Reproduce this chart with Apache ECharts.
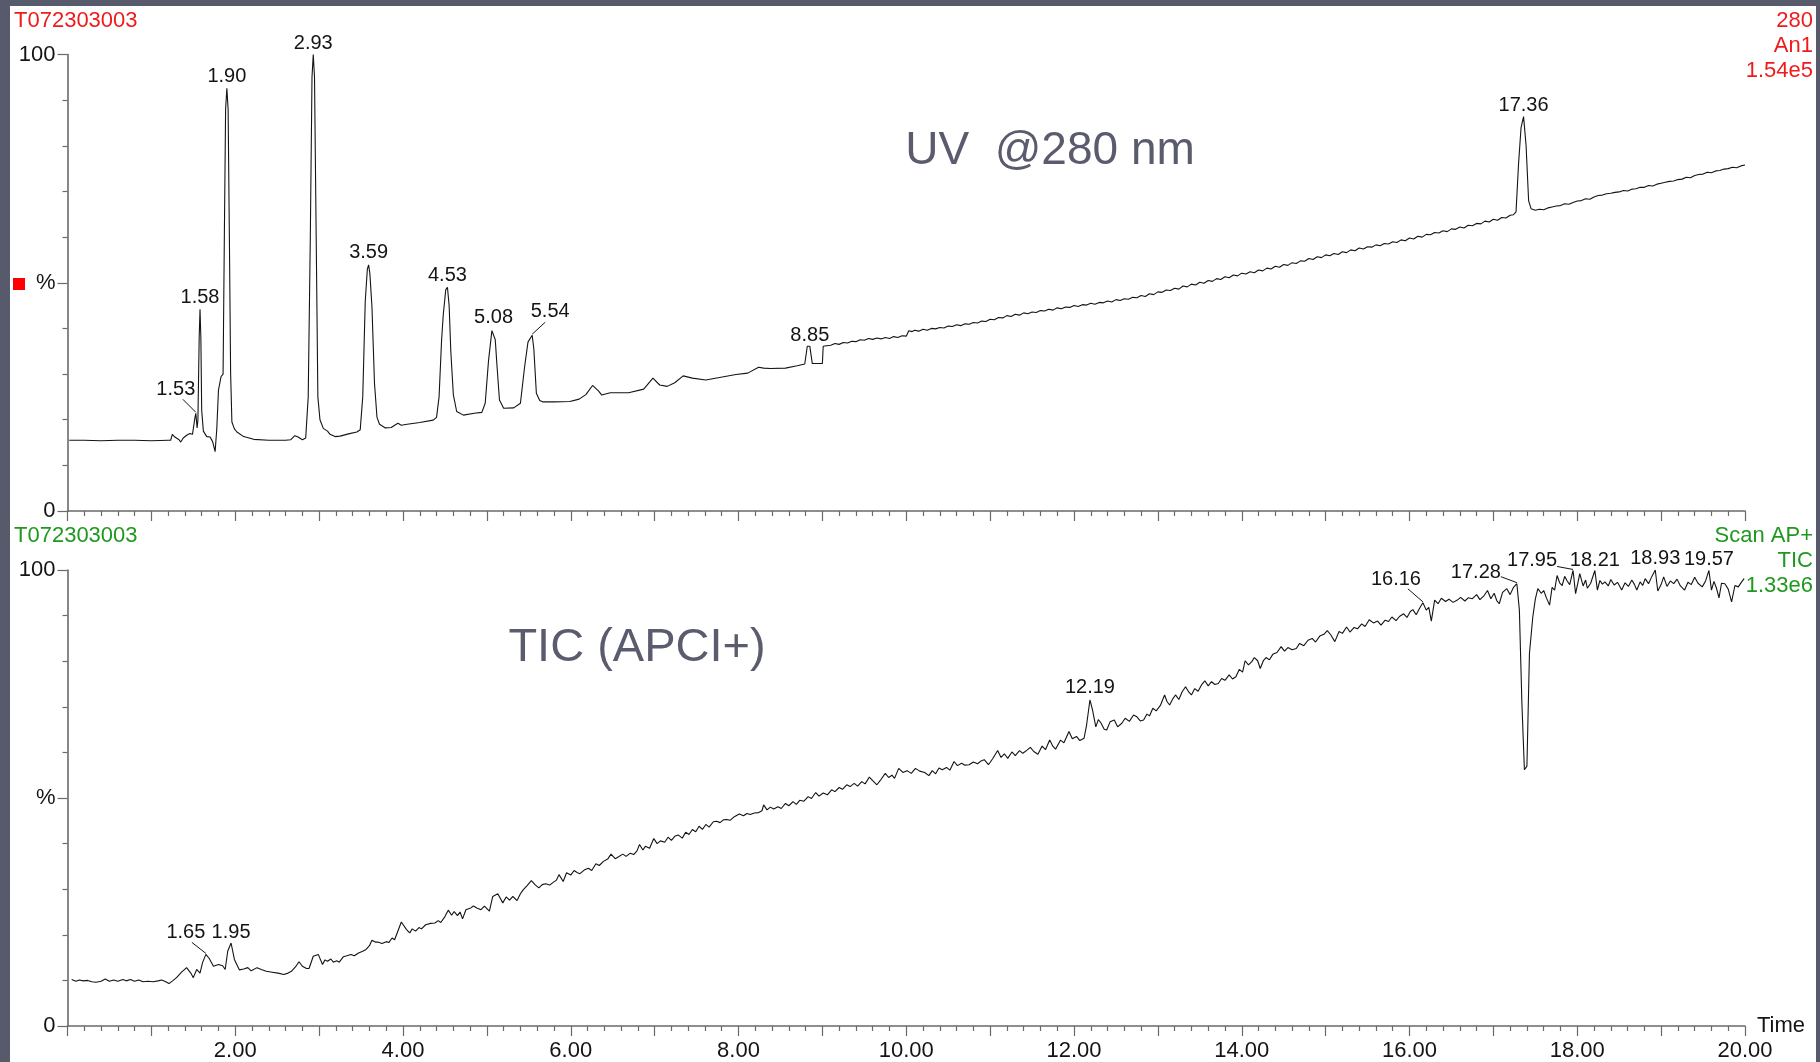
<!DOCTYPE html>
<html>
<head>
<meta charset="utf-8">
<title>T072303003 – UV 280 nm and TIC (APCI+)</title>
<script src="https://cdn.jsdelivr.net/npm/echarts@6/dist/echarts.min.js"></script>
<style>
  html, body { margin: 0; padding: 0; background: #ffffff; }
  #chart { width: 1820px; height: 1062px; }
</style>
</head>
<body>
<div id="chart"></div>
<script>
// ---- UV trace, 280 nm: [retention time (min), % of 1.54e5] ----
var uvEarly = [
  [0.02, 15.5], [0.20, 15.5], [0.40, 15.4], [0.60, 15.5], [0.80, 15.5], [1.00, 15.4], [1.20, 15.5],
  [1.23, 15.5], [1.25, 16.8], [1.28, 16.2], [1.30, 16.5], [1.33, 15.6], [1.35, 15.1], [1.38, 16.0],
  [1.42, 16.6], [1.46, 17.0], [1.49, 16.8], [1.50, 17.2], [1.52, 20.5], [1.53, 21.4], [1.545, 18.2],
  [1.555, 20.0], [1.57, 38.0], [1.58, 44.2], [1.59, 38.0], [1.60, 22.0], [1.62, 17.5], [1.66, 16.3],
  [1.70, 16.2], [1.73, 15.2], [1.76, 13.0], [1.78, 18.0], [1.80, 26.5], [1.83, 29.4], [1.855, 30.0],
  [1.87, 60.0], [1.885, 88.0], [1.90, 92.6], [1.915, 88.0], [1.93, 60.0], [1.945, 30.0], [1.96, 19.5],
  [1.99, 18.0], [2.02, 17.3], [2.10, 16.3], [2.22, 15.7], [2.40, 15.5], [2.60, 15.5], [2.66, 15.6],
  [2.71, 16.5], [2.75, 16.2], [2.80, 15.6], [2.84, 16.0], [2.87, 25.0], [2.895, 60.0], [2.915, 95.0],
  [2.93, 100.0], [2.945, 95.0], [2.965, 60.0], [2.985, 25.0], [3.01, 20.0], [3.05, 18.1], [3.10, 17.5],
  [3.13, 16.8], [3.19, 16.3], [3.25, 16.4], [3.35, 16.9], [3.45, 17.3], [3.49, 17.8], [3.52, 25.0],
  [3.55, 46.0], [3.575, 53.0], [3.59, 53.9], [3.605, 52.0], [3.63, 44.7], [3.66, 28.0], [3.69, 20.5],
  [3.72, 19.0], [3.79, 18.2], [3.86, 18.3], [3.91, 18.9], [3.94, 19.2], [3.98, 18.8], [4.05, 19.0],
  [4.20, 19.4], [4.36, 19.9], [4.40, 20.5], [4.43, 25.0], [4.46, 37.4], [4.48, 43.0], [4.51, 48.5],
  [4.53, 49.0], [4.55, 45.0], [4.57, 35.0], [4.60, 25.5], [4.64, 21.8], [4.72, 21.0], [4.85, 21.4],
  [4.94, 21.6], [4.98, 23.6], [5.02, 33.0], [5.06, 39.5], [5.08, 39.8], [5.10, 37.5], [5.12, 32.0],
  [5.15, 24.3], [5.20, 22.5], [5.32, 22.6], [5.40, 23.6], [5.45, 31.6], [5.49, 37.0], [5.54, 38.5],
  [5.56, 35.5], [5.59, 25.8], [5.63, 24.2], [5.67, 23.9], [5.80, 23.9], [5.99, 24.0], [6.10, 24.5]
];
var uvMiddle = [
  [6.18, 25.5], [6.26, 27.5], [6.33, 26.3], [6.37, 25.4], [6.47, 25.9], [6.69, 25.9], [6.87, 26.7],
  [6.98, 29.1], [7.06, 27.6], [7.15, 27.3], [7.24, 28.1], [7.34, 29.6], [7.45, 29.1], [7.61, 28.7],
  [7.79, 29.3], [7.97, 29.9], [8.11, 30.2], [8.24, 31.5], [8.30, 31.3], [8.38, 31.2], [8.56, 31.3],
  [8.70, 31.8], [8.79, 32.2], [8.81, 32.6], [8.82, 36.1], [8.85, 36.1], [8.87, 36.0], [8.88, 32.3],
  [9.00, 32.3], [9.01, 36.1], [9.05, 36.2], [9.10, 36.3], [9.15, 36.7], [9.20, 36.5], [9.25, 36.9],
  [9.30, 36.8], [9.35, 37.2], [9.40, 37.1], [9.45, 37.5], [9.50, 37.4], [9.55, 37.8], [9.60, 37.6],
  [9.65, 37.9], [9.70, 37.7], [9.75, 38.0], [9.80, 37.8], [9.85, 38.2], [9.90, 38.0], [9.95, 38.4],
  [10.00, 38.3], [10.03, 39.5], [10.07, 39.3], [10.10, 39.6], [10.15, 39.4], [10.20, 39.8], [10.25, 39.6],
  [10.30, 40.0], [10.35, 39.9], [10.40, 40.2], [10.45, 40.1], [10.50, 40.5], [10.55, 40.4], [10.60, 40.8],
  [10.65, 40.6], [10.70, 41.0], [10.75, 40.9], [10.80, 41.3], [10.85, 41.2], [10.90, 41.6], [10.95, 41.5],
  [11.00, 42.0], [11.05, 41.9], [11.10, 42.4], [11.15, 42.3], [11.20, 42.8], [11.25, 42.6], [11.30, 43.1],
  [11.35, 42.9], [11.40, 43.4], [11.45, 43.2], [11.50, 43.6], [11.55, 43.5], [11.60, 43.9], [11.65, 43.8],
  [11.70, 44.2], [11.75, 44.0], [11.80, 44.5], [11.85, 44.3], [11.90, 44.7], [11.95, 44.6], [12.00, 45.0],
  [12.05, 44.8], [12.10, 45.2], [12.15, 45.1], [12.20, 45.5], [12.25, 45.3], [12.30, 45.7], [12.35, 45.6],
  [12.40, 46.0], [12.45, 45.8], [12.50, 46.3], [12.55, 46.1], [12.60, 46.5], [12.65, 46.4], [12.70, 46.8],
  [12.75, 46.7], [12.80, 47.2], [12.85, 47.0], [12.90, 47.6], [12.95, 47.4], [13.00, 48.0], [13.05, 47.9],
  [13.10, 48.4], [13.15, 48.3], [13.20, 48.8], [13.25, 48.6], [13.30, 49.3], [13.35, 49.1], [13.40, 49.7],
  [13.45, 49.5], [13.50, 50.1], [13.55, 49.9], [13.60, 50.5], [13.65, 50.3], [13.70, 50.9], [13.75, 50.7],
  [13.80, 51.3], [13.85, 51.1], [13.90, 51.7], [13.95, 51.5], [14.00, 52.1], [14.05, 51.9], [14.10, 52.4],
  [14.15, 52.2], [14.20, 52.8], [14.25, 52.6], [14.30, 53.2], [14.35, 53.0], [14.40, 53.6], [14.45, 53.4],
  [14.50, 54.0], [14.55, 53.8], [14.60, 54.4], [14.65, 54.2], [14.70, 54.8], [14.75, 54.7], [14.80, 55.3],
  [14.85, 55.1], [14.90, 55.7], [14.95, 55.5], [15.00, 56.1], [15.05, 55.9], [15.10, 56.4], [15.15, 56.2],
  [15.20, 56.8], [15.25, 56.6], [15.30, 57.2], [15.35, 57.0], [15.40, 57.6], [15.45, 57.4], [15.50, 57.9]
];
var uvLate = [
  [15.55, 57.8], [15.60, 58.3], [15.65, 58.1], [15.70, 58.6], [15.75, 58.5], [15.80, 59.0], [15.85, 58.8],
  [15.90, 59.4], [15.95, 59.2], [16.00, 59.8], [16.05, 59.6], [16.10, 60.2], [16.15, 60.0], [16.20, 60.6],
  [16.25, 60.5], [16.30, 61.0], [16.35, 60.9], [16.40, 61.4], [16.45, 61.2], [16.50, 61.8], [16.55, 61.7],
  [16.60, 62.2], [16.65, 62.0], [16.70, 62.6], [16.75, 62.5], [16.80, 63.0], [16.85, 62.9], [16.90, 63.5],
  [16.95, 63.3], [17.00, 63.9], [17.05, 63.7], [17.10, 64.3], [17.15, 64.2], [17.20, 64.8], [17.24, 64.9],
  [17.27, 65.5], [17.30, 76.0], [17.33, 84.0], [17.36, 86.4], [17.39, 80.0], [17.42, 68.0], [17.45, 66.2],
  [17.50, 65.9], [17.55, 66.1], [17.60, 66.0], [17.65, 66.4], [17.70, 66.6], [17.75, 66.8], [17.80, 66.9],
  [17.85, 67.3], [17.90, 67.2], [17.95, 67.6], [18.00, 67.9], [18.05, 68.0], [18.10, 68.4], [18.15, 68.3],
  [18.20, 68.8], [18.25, 69.1], [18.30, 69.2], [18.35, 69.5], [18.40, 69.6], [18.45, 69.8], [18.50, 69.9],
  [18.55, 70.2], [18.60, 70.1], [18.65, 70.5], [18.70, 70.6], [18.75, 70.9], [18.80, 70.9], [18.85, 71.3],
  [18.90, 71.2], [18.95, 71.6], [19.00, 71.8], [19.05, 72.0], [19.10, 72.2], [19.15, 72.3], [19.20, 72.6],
  [19.25, 72.7], [19.30, 73.1], [19.35, 73.0], [19.40, 73.5], [19.45, 73.7], [19.50, 73.8], [19.55, 74.2],
  [19.60, 74.1], [19.65, 74.5], [19.70, 74.6], [19.75, 74.9], [19.80, 75.0], [19.85, 75.3], [19.90, 75.2],
  [19.95, 75.6], [20.00, 75.8]
];

// ---- TIC trace, APCI+ scan (retention time in min, % of 1.33e6) ----
var ticTime = [
  0.05, 0.10, 0.14, 0.19, 0.24, 0.29, 0.34, 0.40, 0.45, 0.50, 0.55, 0.60, 0.66, 0.70, 0.75, 0.80, 0.85, 0.90,
  0.96, 1.02, 1.08, 1.12, 1.16, 1.21, 1.26, 1.30, 1.36, 1.42, 1.47, 1.50, 1.54, 1.58, 1.61, 1.65, 1.69, 1.74,
  1.80, 1.85, 1.88, 1.91, 1.95, 1.99, 2.05, 2.10, 2.15, 2.19, 2.26, 2.31, 2.37, 2.44, 2.51, 2.58, 2.63, 2.67,
  2.72, 2.76, 2.80, 2.85, 2.88, 2.93, 2.99, 3.04, 3.07, 3.10, 3.14, 3.17, 3.21, 3.24, 3.29, 3.33, 3.38, 3.42,
  3.47, 3.52, 3.56, 3.60, 3.63, 3.67, 3.70, 3.75, 3.80, 3.83, 3.87, 3.90, 3.98, 4.04, 4.08, 4.11, 4.15, 4.19,
  4.22, 4.27, 4.33, 4.38, 4.42, 4.45, 4.50, 4.54, 4.58, 4.61, 4.65, 4.68, 4.71, 4.75, 4.80, 4.84, 4.88, 4.93,
  4.97, 5.03, 5.07, 5.13, 5.19, 5.23, 5.27, 5.31, 5.36, 5.40, 5.43, 5.48, 5.53, 5.58, 5.62, 5.66, 5.70, 5.75,
  5.79, 5.83, 5.86, 5.91, 5.95, 6.00, 6.04, 6.08, 6.11, 6.16, 6.21, 6.25, 6.30, 6.34, 6.39, 6.44, 6.48, 6.53,
  6.57, 6.62, 6.66, 6.71, 6.75, 6.79, 6.82, 6.86, 6.89, 6.94, 6.99, 7.03, 7.07, 7.12, 7.16, 7.20, 7.24, 7.28,
  7.33, 7.37, 7.41, 7.45, 7.49, 7.53, 7.57, 7.61, 7.65, 7.70, 7.74, 7.78, 7.82, 7.86, 7.90, 7.95, 8.01, 8.06,
  8.10, 8.14, 8.19, 8.24, 8.28, 8.30, 8.34, 8.38, 8.42, 8.47, 8.51, 8.56, 8.60, 8.65, 8.69, 8.73, 8.78, 8.83,
  8.87, 8.92, 8.96, 9.01, 9.06, 9.11, 9.15, 9.20, 9.24, 9.29, 9.33, 9.38, 9.42, 9.47, 9.51, 9.56, 9.60, 9.65,
  9.70, 9.75, 9.79, 9.83, 9.86, 9.91, 9.96, 10.01, 10.06, 10.11, 10.16, 10.22, 10.27, 10.31, 10.35, 10.39,
  10.43, 10.48, 10.52, 10.57, 10.61, 10.66, 10.70, 10.75, 10.80, 10.85, 10.89, 10.93, 10.98, 11.03, 11.09,
  11.13, 11.17, 11.21, 11.26, 11.30, 11.35, 11.39, 11.44, 11.48, 11.52, 11.57, 11.62, 11.66, 11.71, 11.75,
  11.78, 11.84, 11.88, 11.94, 11.98, 12.03, 12.07, 12.12, 12.15, 12.19, 12.22, 12.26, 12.29, 12.32, 12.36,
  12.39, 12.43, 12.48, 12.52, 12.57, 12.61, 12.66, 12.71, 12.75, 12.79, 12.83, 12.87, 12.90, 12.94, 12.98,
  13.03, 13.08, 13.11, 13.14, 13.18, 13.21, 13.25, 13.29, 13.33, 13.37, 13.40, 13.44, 13.48, 13.52, 13.56,
  13.60, 13.64, 13.68, 13.72, 13.76, 13.80, 13.85, 13.89, 13.93, 13.97, 14.01, 14.04, 14.08, 14.12, 14.15,
  14.19, 14.22, 14.26, 14.29, 14.33, 14.37, 14.42, 14.47, 14.51, 14.55, 14.60, 14.65, 14.69, 14.74, 14.79,
  14.84, 14.88, 14.93, 14.98, 15.02, 15.06, 15.11, 15.16, 15.20, 15.25, 15.29, 15.34, 15.38, 15.43, 15.47,
  15.52, 15.57, 15.62, 15.66, 15.71, 15.75, 15.79, 15.84, 15.88, 15.93, 15.97, 16.01, 16.04, 16.08, 16.12,
  16.16, 16.20, 16.23, 16.26, 16.30, 16.34, 16.38, 16.43, 16.47, 16.52, 16.57, 16.61, 16.66, 16.70, 16.75,
  16.80, 16.84, 16.89, 16.93, 16.97, 17.01, 17.04, 17.07, 17.11, 17.16, 17.20, 17.24, 17.28, 17.31, 17.34,
  17.37, 17.40, 17.43, 17.47, 17.50, 17.53, 17.57, 17.60, 17.63, 17.67, 17.70, 17.73, 17.76, 17.79, 17.82,
  17.85, 17.88, 17.91, 17.95, 17.98, 18.01, 18.03, 18.07, 18.10, 18.12, 18.16, 18.21, 18.24, 18.27, 18.30,
  18.33, 18.37, 18.40, 18.44, 18.48, 18.53, 18.57, 18.61, 18.65, 18.68, 18.71, 18.75, 18.78, 18.81, 18.85,
  18.89, 18.93, 18.96, 19.00, 19.03, 19.07, 19.11, 19.15, 19.19, 19.23, 19.28, 19.32, 19.36, 19.40, 19.44,
  19.49, 19.53, 19.57, 19.60, 19.63, 19.66, 19.69, 19.72, 19.76, 19.80, 19.84, 19.88, 19.92, 19.96, 19.99
];
var ticPct = [
  10.2, 9.8, 10.1, 9.9, 10.0, 9.7, 9.6, 9.8, 10.3, 9.8, 10.1, 9.8, 10.2, 9.9, 10.2, 9.8, 10.1, 9.7,
  9.8, 9.7, 9.9, 10.1, 9.8, 9.3, 10.0, 10.6, 11.8, 12.8, 11.6, 10.6, 12.4, 11.6, 13.9, 15.7, 14.8, 13.1,
  13.5, 13.2, 12.4, 16.4, 18.2, 14.6, 12.3, 12.5, 12.8, 12.1, 12.8, 12.4, 12.0, 11.8, 11.6, 11.3, 11.6, 12.0,
  13.0, 14.1, 13.1, 12.6, 12.6, 15.3, 15.7, 13.5, 14.5, 14.2, 14.7, 14.0, 14.3, 14.0, 15.2, 15.4, 15.7, 15.4,
  16.0, 16.4, 16.8, 17.6, 18.8, 18.4, 18.4, 18.1, 18.5, 18.3, 19.3, 18.9, 22.8, 21.2, 20.4, 21.3, 20.8, 21.6,
  21.3, 22.2, 22.5, 22.6, 23.1, 22.7, 24.0, 25.4, 24.3, 25.1, 24.2, 25.0, 23.5, 25.5, 25.8, 26.3, 25.9, 25.5,
  26.3, 25.2, 28.4, 29.0, 27.0, 28.3, 27.6, 28.4, 27.5, 29.0, 29.8, 30.8, 31.9, 30.9, 30.3, 31.0, 31.2, 30.9,
  31.5, 32.0, 33.2, 31.7, 33.6, 33.1, 34.1, 33.6, 33.4, 34.2, 34.6, 34.1, 35.6, 35.2, 36.1, 36.6, 37.7, 36.7,
  37.1, 37.7, 37.2, 37.9, 37.6, 38.4, 39.8, 38.6, 39.4, 39.0, 41.1, 40.0, 40.6, 40.3, 41.4, 40.7, 41.6, 41.9,
  41.2, 42.5, 42.0, 43.1, 42.6, 43.8, 43.1, 44.2, 43.6, 44.8, 44.9, 44.6, 45.2, 45.3, 45.1, 45.9, 46.5, 46.1,
  46.6, 46.4, 46.7, 46.8, 47.2, 48.5, 47.4, 48.0, 47.6, 48.1, 47.7, 48.8, 48.3, 49.2, 48.6, 49.5, 49.3, 50.3,
  49.9, 51.2, 50.4, 51.1, 50.7, 51.8, 51.4, 52.3, 51.9, 52.9, 52.5, 53.2, 52.6, 53.6, 53.1, 54.6, 53.8, 52.9,
  54.1, 55.4, 54.5, 55.0, 54.3, 56.5, 55.6, 56.0, 55.4, 56.5, 55.9, 55.6, 54.9, 56.0, 55.3, 56.6,
  56.2, 56.7, 56.1, 58.0, 57.1, 57.6, 57.2, 57.3, 57.9, 57.5, 58.1, 58.4, 57.3, 58.6, 60.4,
  58.9, 59.7, 58.7, 60.1, 59.3, 60.4, 59.8, 60.5, 61.1, 60.2, 59.6, 61.4, 60.6, 62.7, 61.3,
  60.7, 62.7, 62.1, 64.6, 63.0, 63.5, 62.6, 63.1, 66.0, 71.5, 69.4, 65.6, 67.2, 66.5, 65.1,
  64.9, 66.7, 67.1, 65.6, 66.4, 67.5, 66.8, 68.2, 67.8, 66.9, 67.1, 68.4, 68.0, 69.7, 69.1,
  70.3, 72.6, 71.1, 70.4, 71.8, 72.6, 71.6, 73.3, 74.4, 73.2, 72.6, 74.0, 73.4, 74.8, 75.7,
  74.6, 75.5, 74.9, 75.1, 76.2, 75.8, 77.0, 76.1, 76.6, 78.2, 77.6, 80.1, 79.2, 79.9, 80.8,
  80.1, 78.4, 80.2, 80.8, 80.3, 81.5, 81.9, 83.2, 82.2, 83.0, 82.5, 82.8, 83.9, 83.4, 84.6,
  85.0, 84.2, 85.5, 85.9, 86.7, 85.8, 84.3, 86.5, 86.1, 87.5, 86.4, 87.4, 87.1, 88.2, 87.6,
  89.1, 88.4, 88.8, 87.9, 89.0, 88.7, 89.7, 88.9, 89.8, 90.4, 89.6, 90.9, 91.3, 90.2, 91.6,
  92.8, 91.2, 91.8, 88.8, 93.4, 92.6, 93.8, 93.1, 93.6, 92.9, 93.4, 94.0, 93.2, 93.9, 93.7,
  94.6, 93.5, 94.4, 95.5, 93.7, 94.9, 93.3, 92.6, 95.1, 95.9, 94.6, 96.2, 97.0, 91.2, 70.8,
  56.2, 57.0, 81.7, 89.7, 93.6, 95.9, 94.9, 95.5, 94.0, 92.3, 96.2, 95.6, 98.8, 97.2, 96.6,
  98.6, 97.6, 96.8, 99.9, 94.8, 97.4, 99.2, 96.5, 97.8, 96.0, 97.1, 99.9, 95.6, 97.7, 96.9,
  97.4, 96.5, 97.9, 96.7, 97.3, 95.6, 97.2, 96.4, 97.8, 96.9, 95.6, 97.4, 96.6, 98.1, 97.0,
  98.6, 100.0, 95.4, 96.8, 98.5, 96.4, 97.6, 97.0, 98.0, 96.5, 95.6, 97.3, 96.8, 98.4, 97.1,
  96.3, 97.6, 99.9, 95.6, 97.5, 96.0, 93.9, 97.1, 97.0, 95.8, 93.0, 96.6, 96.3, 97.4, 98.1
];

// ---- labelled peaks (retention times) ----
var uvPeaks  = [1.53, 1.58, 1.90, 2.93, 3.59, 4.53, 5.08, 5.54, 8.85, 17.36];
var ticPeaks = [1.65, 1.95, 12.19, 16.16, 17.28, 17.95, 18.21, 18.93, 19.57];

// ---- axis tick labels ----
var timeTickLabels = ['2.00', '4.00', '6.00', '8.00', '10.00', '12.00', '14.00', '16.00', '18.00', '20.00'];
var pctTickLabels  = ['0', '%', '100'];

// label placement relative to the apex (px): [dx, dy, leaderStartX, leaderStartY] (leader optional)
var uvLabelPlacement = [
  [-20, -24, -13, -14], [0, -12], [0, -12], [0, -11], [0, -12],
  [0, -12], [0, -12], [18, -24, 13, -13], [0, -11], [0, -11]
];
var ticLabelPlacement = [
  [-20, -22, -14, -12], [0, -11], [0, -12], [-27, -23, -15, -14], [-41, -11, -16, -7],
  [-41, -10, -16, -4], [0, -10], [0, -12], [0, -11]
];

var FONT = "'Liberation Sans', Arial, Helvetica, sans-serif";
var RED = '#ef1b1b';
var GREEN = '#1f981f';
var AXIS = '#6a6a6a';
var INK = '#141414';

var uvTrace = uvEarly.concat(uvMiddle, uvLate);
var ticTrace = ticTime.map(function (t, i) { return [t, ticPct[i]]; });

// value of a trace at the scan closest to time t
function apex(trace, t) {
  var best = trace[0];
  for (var i = 1; i < trace.length; i++) {
    if (Math.abs(trace[i][0] - t) < Math.abs(best[0] - t)) best = trace[i];
  }
  return [best[0], best[1]];
}

function peakLabelSeries(peaks, trace, placement, axisIndex) {
  return {
    type: 'custom',
    xAxisIndex: axisIndex,
    yAxisIndex: axisIndex,
    clip: false,
    silent: true,
    z: 5,
    encode: { x: 0, y: 1 },
    data: peaks.map(function (t) { return apex(trace, t); }),
    renderItem: function (params, api) {
      var i = params.dataIndex;
      var p = api.coord([api.value(0), api.value(1)]);
      var pl = placement[i];
      var children = [{
        type: 'text',
        style: {
          text: peaks[i].toFixed(2),
          x: p[0] + pl[0], y: p[1] + pl[1],
          fill: INK, fontSize: 20, fontFamily: FONT,
          align: 'center', verticalAlign: 'middle',
          textAlign: 'center', textVerticalAlign: 'middle'
        }
      }];
      if (pl.length > 2) {
        children.push({
          type: 'line',
          shape: { x1: p[0] + pl[2], y1: p[1] + pl[3], x2: p[0], y2: p[1] - 1 },
          style: { stroke: INK, lineWidth: 1 }
        });
      }
      return { type: 'group', children: children };
    }
  };
}

function timeAxis(gridIndex, withLabels) {
  return {
    type: 'value', gridIndex: gridIndex, min: 0, max: 20, interval: 1,
    axisLine: { show: true, onZero: false, lineStyle: { color: AXIS, width: 1.6 } },
    axisTick: { show: true, length: 10, lineStyle: { color: AXIS, width: 1.2 } },
    minorTick: { show: true, splitNumber: 5, length: 5, lineStyle: { color: AXIS, width: 1.2 } },
    splitLine: { show: false },
    minorSplitLine: { show: false },
    axisLabel: {
      show: withLabels, margin: 14, color: INK, fontSize: 22, fontFamily: FONT,
      formatter: function (v) {
        return (v > 0 && v % 2 === 0) ? timeTickLabels[v / 2 - 1] : '';
      }
    },
    name: withLabels ? 'Time' : '',
    nameLocation: 'end', nameGap: 12,
    nameTextStyle: { color: INK, fontSize: 22, fontFamily: FONT, align: 'left', verticalAlign: 'middle' }
  };
}
function pctAxis(gridIndex) {
  return {
    type: 'value', gridIndex: gridIndex, min: 0, max: 100, interval: 50,
    axisLine: { show: true, onZero: false, lineStyle: { color: AXIS, width: 1.6 } },
    axisTick: { show: true, length: 10, lineStyle: { color: AXIS, width: 1.2 } },
    minorTick: { show: true, splitNumber: 5, length: 5, lineStyle: { color: AXIS, width: 1.2 } },
    splitLine: { show: false },
    minorSplitLine: { show: false },
    axisLabel: {
      margin: 12, color: INK, fontSize: 22, fontFamily: FONT,
      formatter: function (v) { return pctTickLabels[v / 50]; }
    }
  };
}

function txt(text, x, y, color, size, align) {
  return {
    type: 'text', x: x, y: y, z: 10,
    style: {
      text: text, fill: color, fontSize: size, fontFamily: FONT,
      align: align, verticalAlign: 'middle', textAlign: align, textVerticalAlign: 'middle'
    }
  };
}

var chart = echarts.init(document.getElementById('chart'), null, { renderer: 'canvas' });
chart.setOption({
  animation: false,
  backgroundColor: '#ffffff',
  grid: [
    { left: 67.5, top: 54.5, width: 1677.5, height: 456.5 },
    { left: 67.5, top: 570, width: 1677.5, height: 456.5 }
  ],
  xAxis: [timeAxis(0, false), timeAxis(1, true)],
  yAxis: [pctAxis(0), pctAxis(1)],
  series: [
    {
      name: 'UV 280 nm', type: 'line', xAxisIndex: 0, yAxisIndex: 0,
      data: uvTrace, showSymbol: false, symbol: 'none',
      lineStyle: { color: INK, width: 1.1 }, silent: true
    },
    {
      name: 'TIC', type: 'line', xAxisIndex: 1, yAxisIndex: 1,
      data: ticTrace, showSymbol: false, symbol: 'none',
      lineStyle: { color: INK, width: 1.1 }, silent: true
    },
    peakLabelSeries(uvPeaks, uvTrace, uvLabelPlacement, 0),
    peakLabelSeries(ticPeaks, ticTrace, ticLabelPlacement, 1)
  ],
  graphic: [
    // dark frame around the plotting page
    { type: 'rect', shape: { x: 0, y: 0, width: 10, height: 1062 }, style: { fill: '#575a6b' }, z: 20 },
    { type: 'rect', shape: { x: 0, y: 0, width: 1820, height: 6 }, style: { fill: '#575a6b' }, z: 20 },
    { type: 'rect', shape: { x: 1816, y: 0, width: 4, height: 1062 }, style: { fill: '#575a6b' }, z: 20 },
    // trace headers
    txt('T072303003', 14, 21, RED, 22, 'left'),
    txt('280', 1813, 21, RED, 22, 'right'),
    txt('An1', 1813, 46, RED, 22, 'right'),
    txt('1.54e5', 1813, 71, RED, 22, 'right'),
    txt('T072303003', 14, 536, GREEN, 22, 'left'),
    txt('Scan AP+', 1813, 536, GREEN, 22, 'right'),
    txt('TIC', 1813, 561, GREEN, 22, 'right'),
    txt('1.33e6', 1813, 586, GREEN, 22, 'right'),
    // trace marker
    { type: 'rect', shape: { x: 13, y: 278, width: 12, height: 12 }, style: { fill: '#ff0000' }, z: 10 },
    // panel captions
    txt('UV  @280 nm', 1050, 151, '#5a5c6e', 46, 'center'),
    txt('TIC (APCI+)', 637, 648, '#5a5c6e', 47, 'center')
  ]
});
</script>
</body>
</html>
